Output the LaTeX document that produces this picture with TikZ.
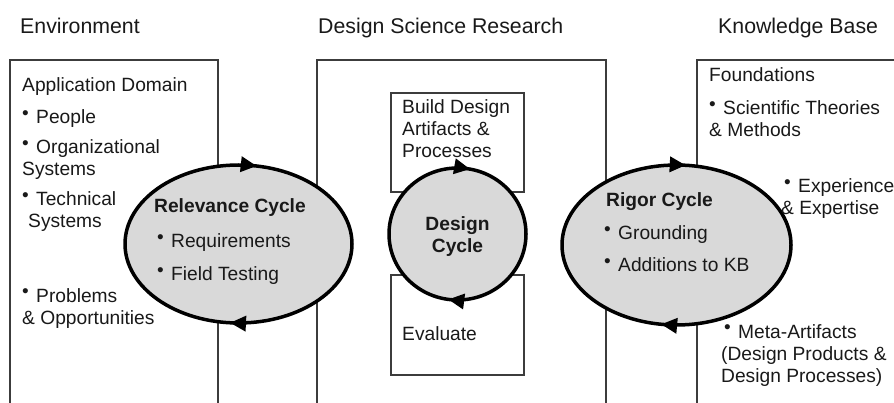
\documentclass[tikz,border=0pt]{standalone}
\usepackage{fontspec}
\setmainfont{Liberation Sans}
\usetikzlibrary{arrows.meta, decorations.markings}

\definecolor{cyclefill}{RGB}{217,217,217}
\definecolor{boxline}{RGB}{60,60,60}
\newcommand{\bul}{\makebox[14pt][l]{\raisebox{.22em}{\fontsize{19}{19}\selectfont\textbullet}}}

\begin{document}
\begin{tikzpicture}[x=1pt, y=-1pt,
    every node/.style={inner sep=0pt, anchor=base west, align=left,
      font=\fontsize{19.2}{22}\selectfont, text=black!90},
    title/.style={font=\fontsize{21.3}{24}\selectfont},
    column/.style={draw=boxline, line width=1.3pt},
    cycleline/.style 2 args={draw=black, line width=3.5pt, fill=cyclefill,
      postaction={decorate}, decoration={markings,
        mark=at position #1 with {\arrow{Triangle[length=16pt, width=15pt, fill=black]}},
        mark=at position #2 with {\arrow{Triangle[length=16pt, width=15pt, fill=black]}}}},
    cyclename/.style={font=\fontsize{19.2}{22}\selectfont\bfseries}]
  \useasboundingbox (0,0) rectangle (894,403);
  \clip (0,0) rectangle (894,403);

  % the three columns
  \draw[column] (10,410) |- (218,60) -- (218,410);
  \draw[column] (317,410) |- (606,60) -- (606,410);
  \draw[column] (697,410) |- (900,60);
  \draw[column] (391,93) rectangle (524,192);
  \draw[column] (391,275) rectangle (524,375);

  % cycles
  \draw[cycleline={0.264}{0.78}] (238.5,244) ellipse (113.5 and 79);
  \draw[cycleline={0.272}{0.78}] (457.5,234) ellipse (68.5 and 66);
  \draw[cycleline={0.275}{0.765}] (676.5,245) ellipse (114.5 and 80);

  % titles
  \node[title] (env) at (20,34) {Environment};
  \node[title] (dsr) at (318,34) {Design Science Research};
  \node[title] (kb) at (718,34) {Knowledge Base};

  % environment (multi-line nodes sit on their last line)
  \node (appdomain) at (22,92) {Application Domain};
  \node (people) at (22,124) {\bul People};
  \node (orgsys) at (22,176) {\bul Organizational\\Systems};
  \node (techsys) at (22,228) {\bul Technical\\\hspace*{6pt}Systems};
  \node (problems) at (22,324) {\bul Problems\\\& Opportunities};

  % relevance cycle
  \node[cyclename] (relcycle) at (154,213) {Relevance Cycle};
  \node (req) at (157,248) {\bul Requirements};
  \node (field) at (157,281) {\bul Field Testing};

  % design science research
  \node (build) at (402,158) {Build Design\\Artifacts \&\\Processes};
  \node[cyclename, anchor=base, align=center] (dcycle) at (457.5,253) {Design\\Cycle};
  \node (evaluate) at (402,340) {Evaluate};

  % rigor cycle
  \node[cyclename] (rigcycle) at (606,207) {Rigor Cycle};
  \node (grounding) at (604,240) {\bul Grounding};
  \node (additions) at (604,272) {\bul Additions to KB};

  % knowledge base
  \node (foundations) at (709,82) {Foundations};
  \node (theories) at (709,137) {\bul Scientific Theories\\\& Methods};
  \node (experience) at (784,215) {\bul Experience\\\hspace*{-3pt}\& Expertise};
  \node (meta) at (724,382) {\bul Meta-Artifacts\\\hspace*{-3pt}(Design Products \&\\\hspace*{-3pt}Design Processes)};
\end{tikzpicture}
\end{document}
